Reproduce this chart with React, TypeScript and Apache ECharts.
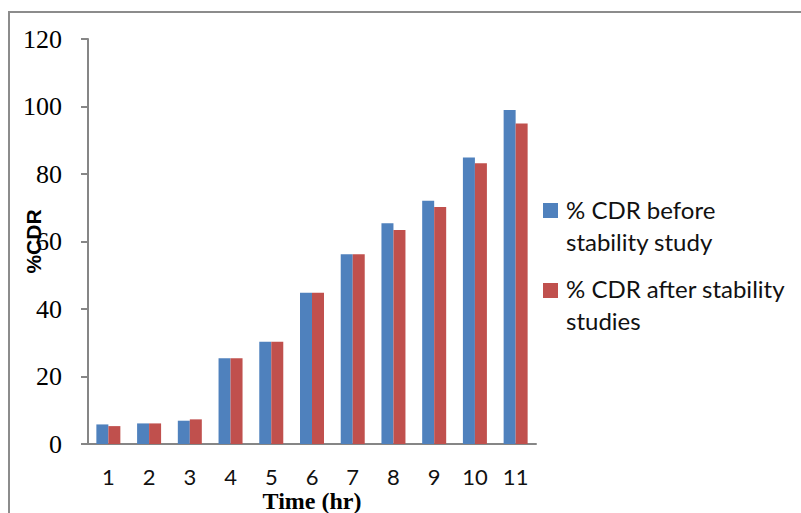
import React, { useEffect, useRef } from "react";
import * as echarts from "echarts";

const categories = ["1", "2", "3", "4", "5", "6", "7", "8", "9", "10", "11"];
const seriesNames = ["% CDR before stability study", "% CDR after stability studies"];
const legendLines = ["% CDR before\nstability study", "% CDR after stability\nstudies"];
const beforeValues = [5.8, 6.1, 6.9, 25.4, 30.3, 44.8, 56.2, 65.4, 72.1, 84.9, 99.0];
const afterValues = [5.3, 6.1, 7.3, 25.4, 30.3, 44.8, 56.2, 63.4, 70.2, 83.2, 95.0];
const colors = ["#4F81BD", "#C0504D"];

export default function App() {
  const ref = useRef<HTMLDivElement>(null);
  useEffect(() => {
    if (!ref.current) return;
    const chart = echarts.init(ref.current, undefined, { renderer: "svg" });
    const axisGray = "#868686";
    chart.setOption({
      animation: false,
      backgroundColor: "#ffffff",
      grid: { left: 88, top: 39, right: 265, bottom: 69, containLabel: false, outerBoundsMode: "none" },
      xAxis: {
        type: "category",
        data: categories,
        name: "Time (hr)",
        nameLocation: "middle",
        nameGap: 46,
        nameMoveOverlap: false,
        nameTextStyle: { fontFamily: "Liberation Serif", fontWeight: "bold", fontSize: 24, lineHeight: 22, color: "#000" },
        axisLine: { lineStyle: { color: axisGray, width: 2 } },
        axisTick: { length: 8, lineStyle: { color: axisGray, width: 2 } },
        axisLabel: { margin: 23, fontFamily: "Lato", fontSize: 22, lineHeight: 18, color: "#111" },
      },
      yAxis: {
        type: "value",
        min: 0,
        max: 120,
        interval: 20,
        name: "%CDR",
        nameLocation: "middle",
        nameGap: 44,
        nameRotate: 90,
        nameMoveOverlap: false,
        nameTextStyle: { fontFamily: "Liberation Sans", fontWeight: "bold", fontSize: 21, color: "#000" },
        axisLine: { show: true, lineStyle: { color: axisGray, width: 2 } },
        axisTick: { show: true, length: 7, lineStyle: { color: axisGray, width: 2 } },
        splitLine: { show: false },
        axisLabel: { margin: 26, fontFamily: "Liberation Serif", fontSize: 26, color: "#000" },
      },
      series: [
        {
          name: seriesNames[0],
          type: "bar",
          data: beforeValues,
          barWidth: 12,
          barGap: "0%",
          itemStyle: { color: colors[0] },
        },
        {
          name: seriesNames[1],
          type: "bar",
          data: afterValues,
          barWidth: 12,
          barGap: "0%",
          itemStyle: { color: colors[1] },
        },
      ],
      graphic: [
        {
          type: "rect",
          shape: { x: 9, y: 12, width: 900, height: 700 },
          style: { fill: "none", stroke: "#8c8c8c", lineWidth: 2 },
          silent: true,
        },
        {
          type: "rect",
          shape: { x: 543, y: 203, width: 15, height: 15 },
          style: { fill: colors[0] },
        },
        {
          type: "text",
          x: 566,
          y: 193,
          style: {
            text: legendLines[0],
            fontFamily: "Lato",
            fontSize: 24,
            lineHeight: 32,
            fill: "#111",
            verticalAlign: "top",
          },
        },
        {
          type: "rect",
          shape: { x: 543, y: 283, width: 15, height: 15 },
          style: { fill: colors[1] },
        },
        {
          type: "text",
          x: 566,
          y: 272,
          style: {
            text: legendLines[1],
            fontFamily: "Lato",
            fontSize: 24,
            lineHeight: 32,
            fill: "#111",
            verticalAlign: "top",
          },
        },
      ],
    });
    return () => chart.dispose();
  }, []);
  return (
    <div
      ref={ref}
      style={{ position: "fixed", left: 0, top: 0, width: 801, height: 513 }}
    />
  );
}
